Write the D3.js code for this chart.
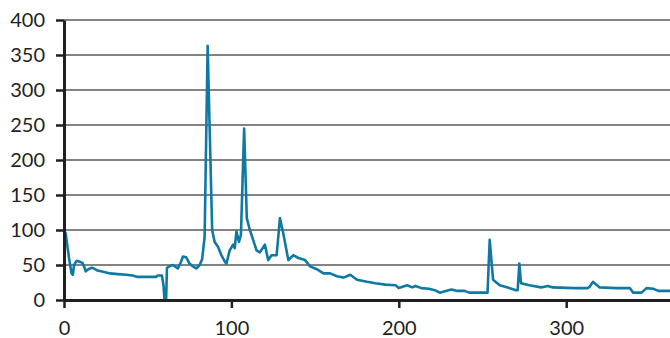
<!DOCTYPE html>
<html>
<head>
<meta charset="utf-8">
<script src="https://cdn.jsdelivr.net/npm/d3@7"></script>
<style>
  html, body { margin: 0; padding: 0; background: #fff; }
  svg { display: block; }
</style>
</head>
<body>
<div id="chart"></div>
<script>
// data (x = day, y = value)
var days = [0, 1, 3, 4.5, 5.3, 6, 7.5, 9, 11, 12, 13, 14.5, 16.5, 18, 20, 24, 27.5, 32, 37, 41,
  44, 50, 55, 56, 58.5, 59.5, 60, 61, 61.5, 63, 65, 68, 70, 71, 73, 75, 77, 79, 81, 82.5,
  84, 85.8, 88.5, 90, 92, 94, 96, 97, 99, 101, 102, 103, 104.5, 105.7, 107.6, 109.2, 111, 113, 115, 117,
  120, 122, 124, 127, 128, 129, 131, 134, 137, 140, 144, 147, 151, 155, 159, 163, 167, 171, 175, 181,
  186, 192, 198, 200, 205, 208, 210, 213.5, 218, 221.5, 224.5, 228, 231.5, 235, 239.4, 242, 248, 253, 254.3, 256.3,
  260.3, 265, 270, 271, 272, 273, 278, 285, 289, 292, 305, 313, 314, 316, 320, 330, 338, 340, 345, 348,
  352, 355, 362];
var values = [100, 95, 60, 38, 36, 50, 56, 55, 53, 48, 41, 44, 46, 45, 42, 40, 38, 37, 36, 35,
  33, 33, 33, 35, 35, 20, 0, 0, 46, 48, 50, 45, 55, 62, 61, 52, 48, 45, 50, 58,
  90, 363, 100, 83, 76, 64, 55, 52, 71, 79, 74, 98, 83, 93, 245, 117, 100, 86, 71, 68,
  79, 57, 64, 64, 90, 117, 95, 57, 64, 60, 57, 48, 44, 38, 38, 34, 32, 36, 29, 26,
  24, 22, 21, 17, 21, 18, 20, 17, 16, 14, 10.5, 13, 15, 13, 13, 10.5, 10.5, 10.5, 86, 29,
  21, 18, 14, 14, 52, 24, 21, 18, 20, 18, 17, 17, 19, 26, 18, 17, 17, 10.5, 10.5, 17,
  16, 13, 13];
var xTicks = [0, 100, 200, 300];
var yTicks = [0, 50, 100, 150, 200, 250, 300, 350, 400];

var width = 670, height = 338;
var margin = { top: 20, right: 0, bottom: 38, left: 64 };

var svg = d3.select("#chart").append("svg")
  .attr("width", width)
  .attr("height", height);

var x = d3.scaleLinear().domain([0, 362]).range([margin.left, width - margin.right]);
var y = d3.scaleLinear().domain([0, 400]).range([height - margin.bottom, margin.top]);

// gridlines
svg.append("g")
  .selectAll("line")
  .data(yTicks.filter(function (d) { return d > 0; }))
  .enter().append("line")
  .attr("x1", margin.left).attr("x2", width)
  .attr("y1", function (d) { return y(d); })
  .attr("y2", function (d) { return y(d); })
  .attr("stroke", "#5a5a5a")
  .attr("stroke-width", 1.5);

// the series
var pts = days.map(function (d, i) { return [d, values[i]]; });
svg.append("path")
  .datum(pts)
  .attr("fill", "none")
  .attr("stroke", "#0f79a3")
  .attr("stroke-width", 2.6)
  .attr("stroke-linejoin", "round")
  .attr("d", d3.line()
    .x(function (d) { return x(d[0]); })
    .y(function (d) { return y(d[1]); }));

// y axis
var yAxis = svg.append("g")
  .attr("transform", "translate(" + margin.left + ",0)")
  .call(d3.axisLeft(y).tickValues(yTicks).tickSize(8).tickPadding(11).tickSizeOuter(0));

// x axis
var xAxis = svg.append("g")
  .attr("transform", "translate(0," + y(0) + ")")
  .call(d3.axisBottom(x).tickValues(xTicks).tickSize(8).tickPadding(13).tickSizeOuter(0));

[yAxis, xAxis].forEach(function (g) {
  g.select(".domain").attr("stroke", "#231f20").attr("stroke-width", 3);
  g.selectAll(".tick line").attr("stroke", "#231f20").attr("stroke-width", 2.5);
  g.selectAll(".tick text")
    .attr("fill", "#231f20")
    .style("font-family", "Lato, sans-serif")
    .style("font-size", "20px");
});
</script>
</body>
</html>
